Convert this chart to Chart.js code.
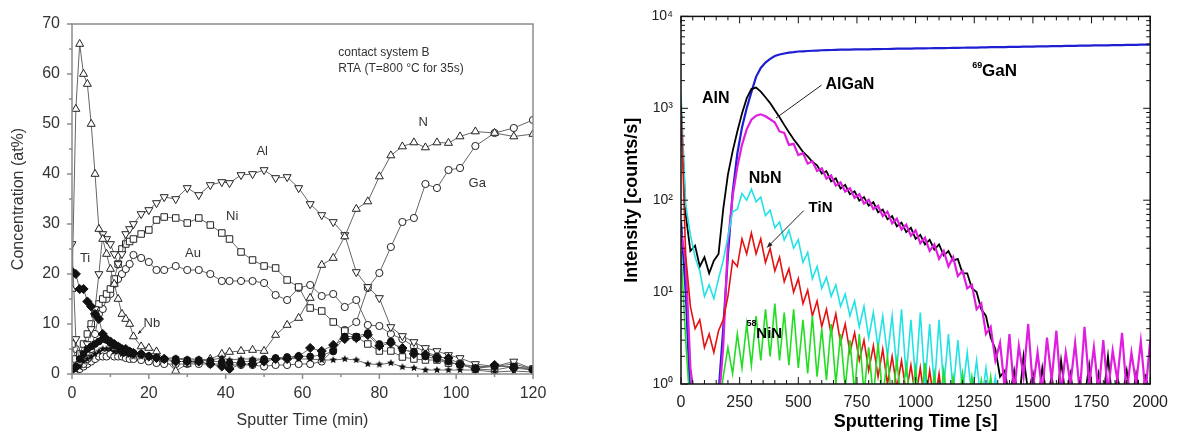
<!DOCTYPE html>
<html>
<head>
<meta charset="utf-8">
<script src="https://cdn.jsdelivr.net/npm/chart.js@4.4.1/dist/chart.umd.min.js"></script>
<style>
  html, body { margin: 0; padding: 0; background: #fff; }
  #wrap { position: relative; width: 1177px; height: 443px; overflow: hidden; }
  #left { position: absolute; left: 0; top: 0; }
  #right { position: absolute; left: 600px; top: 0; }
</style>
</head>
<body>
<div id="wrap">
  <canvas id="left" width="560" height="443"></canvas>
  <canvas id="right" width="577" height="443"></canvas>
</div>
<script>
document.addEventListener("DOMContentLoaded", function() {

const FONT = '"Liberation Sans", Arial, sans-serif';

// Left panel: concentration depth profile (contact system B)

const tMin = [0, 1, 2, 3, 4, 5, 6, 7, 8, 9, 10, 11, 12, 13, 14, 15, 16, 18, 20, 22,
  24, 27, 30, 33, 36, 39, 41, 44, 47, 50, 53, 56, 59, 62, 65, 68, 71, 74, 77, 80,
  83, 86, 89, 92, 95, 98, 101, 105, 110, 115, 120];

const nConc = [17, 53, 66, 60, 58, 50, 40, 29, 27, 24, 21, 18, 15, 12, 11, 10, 7.5, 5.5, 5.2, 4.5,
  3, 0.6, 2, 2.5, 3, 4, 4.4, 4.6, 4.8, 4.6, 7.8, 9.8, 11.2, 15.2, 21.8, 23.2, 27.5, 33, 34.5, 39.5,
  43.7, 45.5, 46.3, 45.3, 46.3, 46.2, 47.5, 48.5, 48.2, 47.5, 48];
const alConc = [26, 7, 2, 4, 6, 9, 13, 20, 28, 27, 26, 24, 22, 24, 28, 29, 30, 32, 32.8, 34.2,
  35.4, 35, 37.2, 35.8, 37.8, 38.4, 38.2, 39.8, 40, 40.8, 39.2, 39.4, 37.2, 34, 31.8, 30.4, 27.8, 20.4, 17.4, 15.2,
  9.4, 7.6, 6.4, 5.2, 4.6, 3.8, 3.2, 2, 1.5, 2.5, 1];
const niConc = [6, 3, 4, 6, 8, 10, 12, 14, 15, 16, 17, 19, 22, 25, 26, 26.5, 27, 28, 28.8, 30.8,
  31.4, 31.2, 30.2, 31.2, 29.8, 28.2, 27, 24.4, 22.8, 21.6, 21.2, 18.8, 17.4, 13.2, 12.6, 10.4, 8.6, 7.4, 6, 4.6,
  4.6, 3.4, 3, 2.8, 2.8, 2.2, 2, 1, 0.8, 1.5, 1];
const auConc = [6, 5, 3, 2, 3, 5, 8, 12, 13, 15, 16, 18, 19, 20, 21, 22, 23.8, 23.2, 22.4, 20.8,
  20.8, 21.6, 20.8, 20.8, 20, 18.6, 18.6, 18.6, 18.6, 18.2, 15.8, 14.8, 17.2, 17.8, 15.6, 16, 13.4, 14.8, 9.8, 9.6,
  8, 7, 5.5, 4.5, 3.5, 2.2, 2, 1.5, 1.5, 2, 1];
const gaConc = [1, 0.5, 1, 1.5, 2, 2.5, 3, 3.5, 3.5, 3.5, 4, 3.5, 3.5, 3.5, 3.2, 3, 3, 2.8, 2.5, 2.2,
  2, 2, 2, 2, 2, 2, 1.8, 1.8, 1.8, 1.5, 1.8, 1.8, 2, 2, 2.5, 4.8, 8.8, 10.4, 17.2, 20.2,
  25.4, 30.4, 31.2, 38, 37.2, 40.8, 41.2, 45.6, 48.2, 49.2, 50.8];
const tiConc = [20.5, 20, 17, 17, 14.5, 13.5, 12, 11, 8, 7, 6.5, 6, 5.5, 5, 5, 4.5, 4.2, 4, 3.5, 3.2,
  3, 2.5, 2.5, 2.5, 2, 1.5, 1, 2, 2, 2.5, 3, 3, 3.5, 5.2, 4.6, 5.8, 7, 7.2, 7.8, 5.6,
  6.2, 5.2, 4, 3.9, 3.4, 3.2, 2, 1, 1.8, 1.2, 0.8];
const nbConc = [1, 1.5, 3, 4, 5, 5.5, 6, 6.5, 7, 6.8, 6.2, 5.8, 5.5, 5, 4.8, 4.5, 4.2, 4, 3.6, 3.3,
  3, 3, 2.8, 2.8, 2.6, 2.4, 2.2, 2.4, 2.6, 3, 3.2, 3.4, 3.6, 3.5, 3.8, 4.5, 7.5, 7.5, 8.2, 6,
  6.5, 4.8, 4.5, 3.5, 3, 2.5, 1.8, 1.2, 1.5, 1.5, 0.8];
const starConc = [0.5, 0.8, 1.5, 2.5, 3, 3.5, 4, 4.5, 5, 5, 5, 4.5, 4.5, 4, 4, 3.8, 3.5, 3.5, 3.4, 3.2,
  3.2, 3.2, 3, 3, 2.8, 3.2, 2.8, 3, 3, 3, 3, 3.2, 3, 3, 2.8, 2.8, 3, 2.8, 2, 1.9,
  2.2, 1.4, 1.2, 0.8, 0.8, 0.8, 0.8, 0.8, 0.4, 0.6, 0.4];

const leftXTicks = [0, 20, 40, 60, 80, 100, 120];
const leftYTicks = [0, 10, 20, 30, 40, 50, 60, 70];

// Right panel: SIMS intensities

const tSec = [0, 20, 40, 60, 80, 100, 120, 140, 160, 180,
  200, 220, 240, 260, 280, 300, 320, 340, 360, 380,
  400, 420, 440, 460, 480, 500, 520, 540, 560, 580,
  600, 620, 640, 660, 680, 700, 720, 740, 760, 780,
  800, 820, 840, 860, 880, 900, 920, 940, 960, 980,
  1000, 1020, 1040, 1060, 1080, 1100, 1120, 1140, 1160, 1180,
  1200, 1220, 1240, 1260, 1280, 1300, 1320, 1340, 1360, 1380,
  1400, 1420, 1440, 1460, 1480, 1500, 1520, 1540, 1560, 1580,
  1600, 1620, 1640, 1660, 1680, 1700, 1720, 1740, 1760, 1780,
  1800, 1820, 1840, 1860, 1880, 1900, 1920, 1940, 1960, 1980,
  2000];

const ganCounts = [60, 10, 0.7, 0.5, 0.5, 0.5, 0.5, 0.6, 0.8, 4,
  25, 120, 320, 620, 1000, 1500, 2200, 2750, 3150, 3450,
  3700, 3850, 3950, 4030, 4080, 4150, 4170, 4200, 4230, 4250,
  4280, 4290, 4310, 4320, 4340, 4350, 4350, 4370, 4380, 4380,
  4380, 4400, 4410, 4420, 4420, 4430, 4450, 4450, 4460, 4470,
  4480, 4490, 4490, 4500, 4510, 4520, 4520, 4530, 4540, 4550,
  4560, 4570, 4580, 4580, 4600, 4610, 4620, 4630, 4640, 4640,
  4650, 4660, 4670, 4680, 4690, 4700, 4710, 4720, 4730, 4740,
  4750, 4760, 4770, 4780, 4790, 4800, 4810, 4820, 4830, 4830,
  4840, 4850, 4860, 4870, 4880, 4890, 4900, 4910, 4920, 4920,
  4930];
const alnCounts = [950, 70, 28, 32, 19, 24, 16, 22, 26, 80,
  190, 340, 560, 880, 1280, 1620, 1680, 1520, 1320, 1140,
  950, 800, 660, 550, 460, 395, 335, 300, 262, 240,
  195, 207, 160, 173, 134, 147, 116, 125, 99, 108,
  87, 95, 74, 79, 62, 67, 52, 57, 45, 50,
  38, 42, 33, 37, 29, 33, 25, 28, 22, 23,
  16, 16, 11, 10, 6.5, 5.5, 3.2, 2.4, 1.2, 1.4,
  0.7, 1.4, 0.6, 2, 0.8, 1.3, 0.6, 1.5, 0.7, 1.2,
  0.6, 1.8, 0.7, 1.3, 0.6, 1.1, 0.7, 1.6, 0.6, 1.3,
  0.7, 2, 0.6, 1.2, 0.7, 1.4, 0.6, 1.3, 0.7, 1.2,
  0.8];
const alganCounts = [45, 22, 1.5, 0.6, 0.5, 0.5, 0.5, 0.6, 0.6, 2.5,
  35, 110, 230, 400, 590, 750, 830, 860, 820, 760,
  700, 560, 540, 400, 410, 310, 325, 250, 265, 208,
  222, 172, 186, 144, 156, 124, 135, 106, 116, 92,
  101, 80, 87, 67, 75, 56, 63, 48, 54, 41,
  47, 34, 39, 28, 33, 23, 28, 19, 24, 15,
  17, 11, 12, 6.5, 7.5, 3.5, 4.2, 1.8, 2.8, 0.9,
  3.5, 0.8, 2.6, 1.2, 4.5, 0.9, 2.2, 0.8, 3.2, 1.1,
  3.8, 0.8, 2.2, 1, 2.8, 0.8, 4.2, 1, 2.5, 0.8,
  3, 0.8, 2.3, 1.1, 3.6, 0.8, 2.2, 1, 2.9, 0.8,
  3];
const nbnCounts = [1400, 90, 42, 24, 17, 9, 12, 8.5, 14, 22,
  40, 75, 80, 118, 100, 132, 96, 108, 68, 78,
  50, 58, 37, 47, 30, 37, 21, 27, 14, 19,
  11, 14.5, 9, 12, 7, 9.5, 5.5, 8, 4.2, 7,
  3.2, 6, 2.5, 5.5, 2, 5.5, 1.4, 6.5, 1.2, 5,
  1.1, 6, 1, 4.5, 0.9, 5, 0.9, 3.5, 0.8, 3,
  0.8, 2.2, 0.7, 1.8, 0.6, 1.5, 0.6, 1.2, 0.5, 0.5,
  0.5, 0.5, 0.5, 0.5, 0.5, 0.5, 0.5, 0.5, 0.5, 0.5,
  0.5, 0.5, 0.5, 0.5, 0.5, 0.5, 0.5, 0.5, 0.5, 0.5,
  0.5, 0.5, 0.5, 0.5, 0.5, 0.5, 0.5, 0.5, 0.5, 0.5,
  0.5];
const tinCounts = [1100, 25, 7, 4, 5, 2.5, 3.5, 2.2, 3.8, 5,
  9, 22, 19, 38, 26, 44, 26, 38, 21, 30,
  17, 24, 13, 18, 10, 14, 7.5, 10.5, 5.5, 8,
  4.2, 6.5, 3.5, 5.8, 2.8, 4.5, 2.2, 3.6, 1.8, 3,
  1.4, 2.6, 1.2, 2.4, 1, 2, 0.9, 1.8, 0.8, 1.6,
  0.7, 1.5, 0.6, 1.4, 0.6, 1.3, 0.5, 0.5, 0.5, 0.5,
  0.5, 0.5, 0.5, 0.5, 0.5, 0.5, 0.5, 0.5, 0.5, 0.5,
  0.5, 0.5, 0.5, 0.5, 0.5, 0.5, 0.5, 0.5, 0.5, 0.5,
  0.5, 0.5, 0.5, 0.5, 0.5, 0.5, 0.5, 0.5, 0.5, 0.5,
  0.5, 0.5, 0.5, 0.5, 0.5, 0.5, 0.5, 0.5, 0.5, 0.5,
  0.5];
const ninCounts = [28, 3, 0.5, 0.5, 0.5, 0.5, 0.5, 0.5, 0.5, 1.2,
  2.5, 1.3, 3.5, 1.5, 4.5, 1.6, 5.5, 1.8, 6.5, 2,
  7.5, 1.8, 6, 1.6, 6.5, 1.5, 5, 1.3, 5.5, 1.2,
  4, 1.1, 4.5, 1, 3.5, 0.9, 3, 0.8, 3.5, 0.8,
  2.5, 0.7, 2.8, 0.7, 2, 0.6, 1.8, 0.6, 1.6, 0.6,
  1.5, 0.5, 1.7, 0.5, 1.3, 0.5, 1.4, 0.5, 1.2, 0.5,
  1.3, 0.5, 1.2, 0.5, 1.1, 0.5, 1.2, 0.5, 0.5, 0.5,
  0.5, 0.5, 0.5, 0.5, 0.5, 0.5, 0.5, 0.5, 0.5, 0.5,
  0.5, 0.5, 0.5, 0.5, 0.5, 0.5, 0.5, 0.5, 0.5, 0.5,
  0.5, 0.5, 0.5, 0.5, 0.5, 0.5, 0.5, 0.5, 0.5, 0.5,
  0.5];

const rightXTicks = [0, 250, 500, 750, 1000, 1250, 1500, 1750, 2000];
const rightYTicks = [1, 10, 100, 1000, 10000];

// tick marks drawn by hand (Chart.js has no minor ticks)

function makeFrame(cfg) {
  return {
    id: 'frame',
    afterDatasetsDraw(chart) {
      const ctx = chart.ctx;
      const a = chart.chartArea;
      const xs = chart.scales.x, ys = chart.scales.y;
      const s = cfg.inside ? 1 : -1;
      ctx.save();
      ctx.strokeStyle = cfg.color;
      ctx.lineWidth = cfg.tickWidth;
      ctx.beginPath();
      cfg.xMarks.forEach(function(m) {
        const p = xs.getPixelForValue(m[0]);
        ctx.moveTo(p, a.bottom);
        ctx.lineTo(p, a.bottom - s * m[1]);
        if (cfg.mirror) { ctx.moveTo(p, a.top); ctx.lineTo(p, a.top + m[1]); }
      });
      cfg.yMarks.forEach(function(m) {
        const p = ys.getPixelForValue(m[0]);
        ctx.moveTo(a.left, p);
        ctx.lineTo(a.left + s * m[1], p);
        if (cfg.mirror) { ctx.moveTo(a.right, p); ctx.lineTo(a.right - m[1], p); }
      });
      ctx.stroke();
      ctx.lineWidth = cfg.boxWidth;
      ctx.strokeRect(a.left, a.top, a.right - a.left, a.bottom - a.top);
      ctx.restore();
    }
  };
}

function arrowLine(ctx, x1, y1, x2, y2, head) {
  ctx.beginPath();
  ctx.moveTo(x1, y1);
  ctx.lineTo(x2, y2);
  ctx.stroke();
  const ang = Math.atan2(y2 - y1, x2 - x1);
  ctx.beginPath();
  ctx.moveTo(x2, y2);
  ctx.lineTo(x2 - head * Math.cos(ang - 0.4), y2 - head * Math.sin(ang - 0.4));
  ctx.lineTo(x2 - head * Math.cos(ang + 0.4), y2 - head * Math.sin(ang + 0.4));
  ctx.closePath();
  ctx.fill();
}

// filled star marker
function starImage(r) {
  const c = document.createElement('canvas');
  c.width = c.height = 2 * r + 2;
  const g = c.getContext('2d');
  g.beginPath();
  for (let k = 0; k < 10; k++) {
    const rr = k % 2 ? r * 0.45 : r;
    const ang = -Math.PI / 2 + k * Math.PI / 5;
    g.lineTo(r + 1 + rr * Math.cos(ang), r + 1 + rr * Math.sin(ang));
  }
  g.closePath();
  g.fillStyle = '#111';
  g.fill();
  return c;
}

// Chart 1

function leftSet(label, values, style, extra) {
  return Object.assign({
    label: label,
    data: tMin.map((t, i) => ({x: t, y: values[i]})),
    borderColor: '#666',
    borderWidth: 1,
    pointStyle: style,
    pointRadius: 4,
    pointBorderColor: '#222',
    pointBackgroundColor: '#fff',
    pointBorderWidth: 1,
    tension: 0
  }, extra);
}

const leftXMarks = [];
for (let v = 0; v <= 120; v += 10) leftXMarks.push([v, v % 20 === 0 ? 5 : 3]);
const leftYMarks = [];
for (let v = 0; v <= 70; v += 5) leftYMarks.push([v, v % 10 === 0 ? 5 : 3]);

const leftNotes = {
  id: 'leftNotes',
  afterDatasetsDraw(chart) {
    const {ctx, scales: {x, y}} = chart;
    ctx.save();
    ctx.fillStyle = '#333';
    ctx.strokeStyle = '#222';
    ctx.textBaseline = 'middle';
    ctx.font = '12px ' + FONT;
    ctx.textAlign = 'left';
    ctx.fillText('contact system B', x.getPixelForValue(69.3), y.getPixelForValue(64.2));
    ctx.fillText('RTA (T=800 \u00B0C for 35s)', x.getPixelForValue(69.3), y.getPixelForValue(61));
    ctx.font = '13px ' + FONT;
    ctx.textAlign = 'center';
    [['Al', 49.5, 44.6], ['Ni', 41.7, 31.6], ['Au', 31.5, 24.2], ['N', 91.4, 50.4],
     ['Ga', 105.5, 38.2], ['Ti', 3.4, 23.2], ['Nb', 20.8, 10.2]].forEach(function(n) {
      ctx.fillText(n[0], x.getPixelForValue(n[1]), y.getPixelForValue(n[2]));
    });
    ctx.fillStyle = '#222';
    ctx.lineWidth = 1;
    arrowLine(ctx, x.getPixelForValue(18.8), y.getPixelForValue(9.4), x.getPixelForValue(17.2), y.getPixelForValue(8.0), 4);
    ctx.restore();
  }
};

new Chart(document.getElementById('left'), {
  type: 'line',
  data: {
    datasets: [
      leftSet('Ti', tiConc, 'rectRot', {pointRadius: 4.6, pointBackgroundColor: '#111', pointBorderColor: '#111'}),
      leftSet('Nb', nbConc, 'circle', {pointRadius: 3.4, pointBackgroundColor: '#111', pointBorderColor: '#111'}),
      leftSet('stars', starConc, starImage(4), {}),
      leftSet('N', nConc, 'triangle', {pointRadius: 4.6}),
      leftSet('Al', alConc, 'triangle', {pointRadius: 4.6, pointRotation: 180}),
      leftSet('Ni', niConc, 'rect', {pointRadius: 4.6}),
      leftSet('Au', auConc, 'circle', {pointRadius: 3.6}),
      leftSet('Ga', gaConc, 'circle', {pointRadius: 3.6})
    ]
  },
  options: {
    responsive: false,
    animation: false,
    devicePixelRatio: 1,
    events: [],
    layout: { padding: { top: 24, right: 27, left: 0, bottom: 0 } },
    plugins: { legend: { display: false }, tooltip: { enabled: false } },
    scales: {
      x: {
        type: 'linear', min: 0, max: 120,
        afterBuildTicks: s => { s.ticks = leftXTicks.map(v => ({value: v})); },
        ticks: { color: '#333', font: { family: FONT, size: 16 }, padding: 10, maxRotation: 0 },
        grid: { display: false, drawTicks: false },
        border: { display: false },
        title: { display: true, text: 'Sputter Time (min)', color: '#333',
                 font: { family: FONT, size: 16 }, padding: { top: 0, bottom: 13 } },
        afterFit: s => { s.height = 69; }
      },
      y: {
        type: 'linear', min: 0, max: 70,
        afterBuildTicks: s => { s.ticks = leftYTicks.map(v => ({value: v})); },
        ticks: { color: '#333', font: { family: FONT, size: 16 }, padding: 12 },
        grid: { display: false, drawTicks: false },
        border: { display: false },
        title: { display: true, text: 'Concentration (at%)', color: '#333',
                 font: { family: FONT, size: 16 }, padding: { top: 9, bottom: 0 } },
        afterFit: s => { s.width = 72; }
      }
    }
  },
  plugins: [makeFrame({ color: '#8c8c8c', tickWidth: 1.5, boxWidth: 1.5, inside: false, mirror: false,
                        xMarks: leftXMarks, yMarks: leftYMarks }), leftNotes]
});

// Chart 2

function rightSet(label, values, color, width, order) {
  return {
    label: label,
    data: tSec.map((t, i) => ({x: t, y: values[i]})),
    borderColor: color,
    borderWidth: width,
    pointRadius: 0,
    tension: 0,
    order: order
  };
}

const rightXMarks = [];
for (let v = 0; v <= 2000; v += 50) rightXMarks.push([v, v % 250 === 0 ? 7 : 4]);
const rightYMarks = [];
[1, 10, 100, 1000].forEach(function(d) {
  for (let k = 1; k <= 9; k++) rightYMarks.push([k * d, k === 1 ? 7 : 4]);
});
rightYMarks.push([10000, 7]);

const SUP = ['\u2070', '\u00B9', '\u00B2', '\u00B3', '\u2074'];

const rightNotes = {
  id: 'rightNotes',
  afterDatasetsDraw(chart) {
    const {ctx, scales: {x, y}} = chart;
    const px = t => x.getPixelForValue(t);
    const py = v => y.getPixelForValue(v);
    ctx.save();
    ctx.fillStyle = '#000';
    ctx.strokeStyle = '#222';
    ctx.textBaseline = 'middle';
    ctx.font = 'bold 16px ' + FONT;
    ctx.textAlign = 'center';
    ctx.fillText('AlN', px(148), py(1260));
    ctx.fillText('NbN', px(359), py(171));
    ctx.textAlign = 'left';
    ctx.fillText('AlGaN', px(616), py(1830));
    ctx.font = 'bold 15px ' + FONT;
    ctx.fillText('TiN', px(544), py(83));
    ctx.fillText('NiN', px(321), py(3.48));
    ctx.font = 'bold 17px ' + FONT;
    ctx.fillText('GaN', px(1283), py(2535));
    ctx.font = 'bold 9px ' + FONT;
    ctx.fillText('58', px(279), py(4.6));
    ctx.fillText('69', px(1241), py(2942));
    ctx.lineWidth = 1;
    ctx.beginPath();
    ctx.moveTo(px(599), py(1786));
    ctx.lineTo(px(405), py(783));
    ctx.stroke();
    ctx.fillStyle = '#222';
    arrowLine(ctx, px(523), py(77), px(367), py(30.6), 6);
    ctx.restore();
  }
};

new Chart(document.getElementById('right'), {
  type: 'line',
  data: {
    datasets: [
      rightSet('58NiN', ninCounts, '#22dd22', 1.6, 1),
      rightSet('TiN', tinCounts, '#e51212', 1.6, 2),
      rightSet('NbN', nbnCounts, '#22e2e6', 1.6, 3),
      rightSet('AlGaN', alganCounts, '#e01ee0', 2.2, 4),
      rightSet('AlN', alnCounts, '#000000', 1.8, 5),
      rightSet('69GaN', ganCounts, '#1e1ed2', 2.2, 6)
    ]
  },
  options: {
    responsive: false,
    animation: false,
    devicePixelRatio: 1,
    events: [],
    layout: { padding: { top: 15, right: 22, left: 0, bottom: 0 } },
    plugins: { legend: { display: false }, tooltip: { enabled: false } },
    scales: {
      x: {
        type: 'linear', min: 0, max: 2000,
        afterBuildTicks: s => { s.ticks = rightXTicks.map(v => ({value: v})); },
        ticks: { color: '#222', font: { family: FONT, size: 16 }, padding: 9, maxRotation: 0,
                 callback: v => String(v) },
        grid: { display: false, drawTicks: false },
        border: { display: false },
        title: { display: true, text: 'Sputtering Time [s]', color: '#000',
                 font: { family: FONT, size: 18, weight: 'bold' }, padding: { top: 0, bottom: 10 } },
        afterFit: s => { s.height = 59; }
      },
      y: {
        type: 'logarithmic', min: 1, max: 10000,
        afterBuildTicks: s => { s.ticks = rightYTicks.map(v => ({value: v})); },
        ticks: { color: '#222', font: { family: FONT, size: 14 }, padding: 8,
                 callback: v => '10' + SUP[Math.round(Math.log10(v))] },
        grid: { display: false, drawTicks: false },
        border: { display: false },
        title: { display: true, text: 'Intensity [counts/s]', color: '#000',
                 font: { family: FONT, size: 18, weight: 'bold' }, padding: { top: 21, bottom: 0 } },
        afterFit: s => { s.width = 81; }
      }
    }
  },
  plugins: [makeFrame({ color: '#111', tickWidth: 1, boxWidth: 1.5, inside: true, mirror: true,
                        xMarks: rightXMarks, yMarks: rightYMarks }), rightNotes]
});

});
</script>
</body>
</html>
